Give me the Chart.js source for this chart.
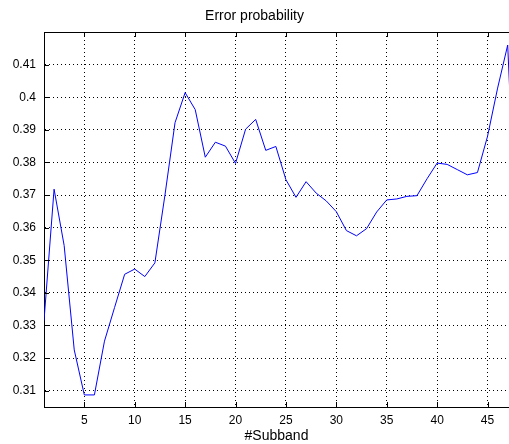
<!DOCTYPE html>
<html>
<head>
<meta charset="utf-8">
<title>Error probability</title>
<script src="https://cdn.jsdelivr.net/npm/chart.js@4.4.1/dist/chart.umd.min.js"></script>
<style>
  html, body { margin: 0; padding: 0; background: #fff; }
  #wrap { width: 509px; height: 444px; }
</style>
</head>
<body>
<div id="wrap"><canvas id="errChart" width="509" height="444"></canvas></div>
<script>
// Data
// =====================
const subbands = [
    1, 2, 3, 4, 5, 6, 7, 8, 9, 10,
    11, 12, 13, 14, 15, 16, 17, 18, 19, 20,
    21, 22, 23, 24, 25, 26, 27, 28, 29, 30,
    31, 32, 33, 34, 35, 36, 37, 38, 39, 40,
    41, 42, 43, 44, 45, 46, 47, 48
];
const errorProb = [
    0.3315, 0.3718, 0.3545, 0.3225, 0.3087, 0.3087, 0.3252, 0.3355, 0.3457, 0.3473,
    0.3450, 0.3492, 0.3700, 0.3922, 0.4014, 0.3962, 0.3816, 0.3862, 0.3850, 0.3797,
    0.3902, 0.3932, 0.3837, 0.3849, 0.3747, 0.3693, 0.3741, 0.3706, 0.3682, 0.3649,
    0.3591, 0.3575, 0.3597, 0.3648, 0.3685, 0.3688, 0.3696, 0.3698, 0.3750, 0.3798,
    0.3794, 0.3778, 0.3762, 0.3769, 0.3880, 0.4028, 0.4160, 0.3460
];

const xTicks = [5, 10, 15, 20, 25, 30, 35, 40, 45];
const xTickLabels = ['5', '10', '15', '20', '25', '30', '35', '40', '45'];
const yTicks = [0.31, 0.32, 0.33, 0.34, 0.35, 0.36, 0.37, 0.38, 0.39, 0.40, 0.41];
const yTickLabels = ['0.31', '0.32', '0.33', '0.34', '0.35', '0.36', '0.37', '0.38', '0.39', '0.4', '0.41'];

const FONT = '"Liberation Sans", Arial, Helvetica, sans-serif';

// Top frame line and inward tick marks (MATLAB style)
const frameTicks = {
    id: 'frameTicks',
    afterDatasetsDraw(chart) {
        const { ctx, chartArea: a, scales: { x, y } } = chart;
        ctx.save();
        ctx.strokeStyle = '#000';
        ctx.lineWidth = 1;
        ctx.setLineDash([]);
        ctx.beginPath();
        ctx.moveTo(a.left, Math.round(a.top) + 0.5);
        ctx.lineTo(a.right, Math.round(a.top) + 0.5);
        xTicks.forEach(v => {
            const px = Math.round(x.getPixelForValue(v)) + 0.5;
            ctx.moveTo(px, a.bottom);
            ctx.lineTo(px, a.bottom - 5);
            ctx.moveTo(px, a.top);
            ctx.lineTo(px, a.top + 5);
        });
        yTicks.forEach(v => {
            const py = Math.round(y.getPixelForValue(v)) + 0.5;
            ctx.moveTo(a.left, py);
            ctx.lineTo(a.left + 5, py);
        });
        ctx.stroke();
        ctx.restore();
    }
};

const points = subbands.map((s, i) => ({ x: s, y: errorProb[i] }));

new Chart(document.getElementById('errChart'), {
    type: 'line',
    data: {
        datasets: [{
            data: points,
            borderColor: '#0000ff',
            borderWidth: 1,
            pointRadius: 0,
            tension: 0,
            fill: false,
            clip: 0
        }]
    },
    options: {
        responsive: false,
        animation: false,
        devicePixelRatio: 1,
        layout: { padding: 0 },
        plugins: {
            legend: { display: false },
            tooltip: { enabled: false },
            title: {
                display: true,
                text: 'Error probability',
                color: '#000',
                font: { family: FONT, size: 14, weight: 'normal' },
                padding: { top: 8, bottom: 7.2 }
            }
        },
        scales: {
            x: {
                type: 'linear',
                min: 1,
                max: 47.13,
                afterBuildTicks: scale => { scale.ticks = xTicks.map(v => ({ value: v })); },
                afterFit: scale => { scale.height = 37; },
                ticks: {
                    color: '#000',
                    padding: 6,
                    maxRotation: 0,
                    font: { family: FONT, size: 12 },
                    callback: (value, index) => xTickLabels[index]
                },
                grid: { color: '#000', lineWidth: 1, drawTicks: false },
                border: { display: true, color: '#000', width: 1, dash: [1, 3] },
                title: {
                    display: true,
                    text: '#Subband',
                    color: '#000',
                    font: { family: FONT, size: 14 },
                    padding: { top: 0, bottom: -1 }
                }
            },
            y: {
                type: 'linear',
                min: 0.305,
                max: 0.42,
                afterBuildTicks: scale => { scale.ticks = yTicks.map(v => ({ value: v })); },
                afterFit: scale => { scale.width = 44; },
                ticks: {
                    color: '#000',
                    padding: 8,
                    font: { family: FONT, size: 12 },
                    callback: (value, index) => yTickLabels[index]
                },
                grid: { color: '#000', lineWidth: 1, drawTicks: false },
                border: { display: true, color: '#000', width: 1, dash: [1, 3] }
            }
        }
    },
    plugins: [frameTicks]
});
</script>
</body>
</html>
